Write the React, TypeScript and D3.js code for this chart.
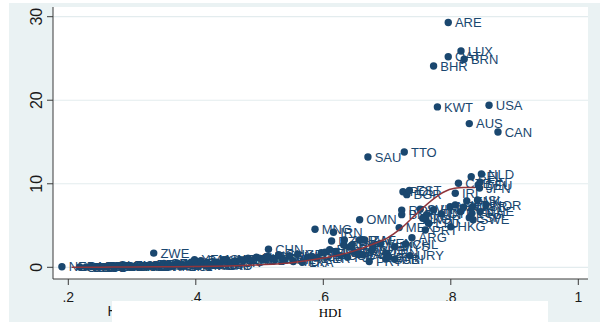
import React from "react";
import * as d3 from "d3";

// Country codes, Human Development Index and CO2 emissions per capita (tonnes)
const countries = [
  "NER","COD","BDI","MOZ","TCD","ETH","MLI","BFA","SLE","CAF","GIN","LBR","GNB","ERI","MWI","AFG","RWA","TZA","UGA","BEN",
  "ZMB","ZWE","GMB","CIV","SEN","TGO","MDG","SDN","MRT","NPL","HTI","KEN","NGA","YEM","CMR","PAK","BGD","COG","KHM","GHA",
  "AGO","LAO","SWZ","IND","TJK","NIC","GTM","HND","MAR","BOL","NAM","KGZ","VNM","IDN","CHN","SLV","GUY","PHL","BWA","MDA",
  "GEO","LKA","ARM","ALB","PER","TUN","ECU","EGY","MNG","DZA","IRN","DOM","COL","THA","JOR","FJI","TUR","SYR","BRA","PAN",
  "OMN","JAM","BLZ","ZAF","SAU","PRY","CUB","MKD","VEN","LBN","MYS","GAB","BIH","CRI","MEX","URY","CHL","ARG","TTO","ROU",
  "BLR","POL","BGR","EST","LTU","PRT","KOR","SVK","HUN","HRV","LVA","CYP","HKG","BHR","KWT","ARE","QAT","NZL","AUT","IRL",
  "CZE","SVN","LUX","ITA","BRN","DNK","AUS","ESP","BEL","FRA","GBR","SWE","ISL","DEU","JPN","FIN","CHE","NLD","NOR","USA",
  "CAN",
];

const hdi = [
  0.190,0.218,0.228,0.236,0.242,0.249,0.255,0.262,0.268,0.273,0.279,0.284,0.290,0.296,0.301,0.307,0.312,0.318,0.323,0.328,
  0.333,0.334,0.339,0.345,0.350,0.356,0.361,0.366,0.371,0.376,0.381,0.386,0.393,0.398,0.403,0.408,0.413,0.418,0.423,0.428,
  0.433,0.438,0.443,0.448,0.455,0.462,0.470,0.476,0.482,0.488,0.495,0.500,0.507,0.513,0.514,0.522,0.530,0.538,0.547,0.553,
  0.560,0.567,0.575,0.582,0.590,0.597,0.603,0.610,0.587,0.613,0.616,0.620,0.627,0.632,0.633,0.638,0.642,0.645,0.650,0.655,
  0.657,0.657,0.662,0.665,0.670,0.672,0.676,0.678,0.689,0.699,0.712,0.698,0.703,0.712,0.719,0.736,0.729,0.739,0.727,0.723,
  0.723,0.725,0.731,0.735,0.765,0.760,0.761,0.752,0.762,0.773,0.756,0.785,0.800,0.773,0.779,0.796,0.796,0.799,0.807,0.807,
  0.812,0.815,0.816,0.820,0.821,0.825,0.829,0.829,0.832,0.833,0.834,0.835,0.842,0.843,0.845,0.846,0.846,0.848,0.855,0.860,
  0.874,
];

const co2 = [
  0.07,0.04,0.03,0.10,0.01,0.08,0.05,0.10,0.20,0.06,0.15,0.15,0.20,0.12,0.08,0.05,0.07,0.15,0.10,0.30,
  0.20,1.70,0.25,0.30,0.45,0.25,0.10,0.30,0.50,0.12,0.20,0.30,0.60,0.90,0.25,0.80,0.30,0.40,0.25,0.35,
  0.60,0.20,0.90,0.95,0.60,0.75,0.90,0.90,1.10,0.80,1.20,1.10,0.90,1.30,2.16,1.00,1.50,0.90,1.35,0.70,
  1.56,0.60,1.20,1.30,1.10,1.75,1.80,2.10,4.55,3.15,4.20,1.90,1.40,2.67,3.27,1.20,2.47,2.67,1.80,1.60,
  5.70,3.27,1.50,3.27,13.2,0.70,2.00,2.47,2.87,1.68,2.47,1.00,1.20,0.96,4.75,1.40,2.80,3.55,13.8,6.85,
  6.30,9.05,8.70,9.20,5.27,4.47,5.70,6.95,6.30,6.90,5.87,6.40,4.86,24.1,19.2,29.3,25.2,7.26,7.46,8.86,
  10.06,6.66,25.9,7.20,24.9,7.94,17.2,5.94,10.85,6.47,7.26,5.70,8.06,9.85,9.50,10.20,6.66,11.17,7.46,19.4,
  16.2,
];

// Fitted relationship between HDI and emissions
const fitHdi = [0.205,0.25,0.30,0.35,0.40,0.45,0.50,0.55,0.60,0.626,0.65,0.675,0.70,0.721,0.746,0.773,0.79,0.806,0.82,0.838];
const fitCo2 = [0.0,0.02,0.04,0.07,0.1,0.16,0.3,0.55,1.1,1.5,2.0,2.7,3.5,4.6,6.4,8.2,9.05,9.45,9.55,9.55];

const xTicks = [0.2, 0.4, 0.6, 0.8, 1];
const xTickLabels = [".2", ".4", ".6", ".8", "1"];
const yTicks = [0, 10, 20, 30];

const NAVY = "#1a476f";
const MAROON = "#90353b";
const BG = "#eaf2f3";
const SANS = "'Liberation Sans', Arial, Helvetica, sans-serif";
const SERIF = "'Liberation Serif', 'Times New Roman', serif";

export default function App() {
  const width = 600;
  const height = 324;

  const plot = { left: 53, right: 588, top: 7, bottom: 279 };

  const x = d3.scaleLinear().domain([0.2, 1]).range([68.3, 578.3]);
  const y = d3.scaleLinear().domain([0, 30]).range([267.3, 16.7]);

  const fitPoints: [number, number][] = fitHdi.map((h, i) => [h, fitCo2[i]]);
  const fitPath = d3
    .line<[number, number]>()
    .x((d) => x(d[0]))
    .y((d) => y(d[1]))
    .curve(d3.curveMonotoneX)(fitPoints);

  return (
    <svg
      width={width}
      height={height}
      style={{ position: "absolute", left: 0, top: 0 }}
      fontFamily={SANS}
    >
      <rect x={0} y={0} width={width} height={height} fill="#ffffff" />
      <rect x={9} y={3} width={591} height={319} fill={BG} />
      <rect
        x={plot.left}
        y={plot.top}
        width={plot.right - plot.left}
        height={plot.bottom - plot.top}
        fill="#ffffff"
      />

      {/* horizontal grid */}
      {yTicks.map((t) => (
        <line
          key={"g" + t}
          x1={plot.left}
          x2={plot.right}
          y1={y(t)}
          y2={y(t)}
          stroke="#e3ecee"
          strokeWidth={1.2}
        />
      ))}

      {/* axes */}
      <line x1={plot.left} x2={plot.left} y1={plot.top} y2={plot.bottom} stroke="#3a3a3a" strokeWidth={1} />
      <line x1={plot.left} x2={plot.right} y1={plot.bottom} y2={plot.bottom} stroke="#3a3a3a" strokeWidth={1} />

      {yTicks.map((t) => (
        <g key={"yt" + t}>
          <line x1={plot.left - 6} x2={plot.left} y1={y(t)} y2={y(t)} stroke="#3a3a3a" strokeWidth={1} />
          <text
            transform={`translate(41.8, ${y(t)}) rotate(-90)`}
            textAnchor="middle"
            fontSize={16}
            fill="#1a1a1a"
          >
            {t}
          </text>
        </g>
      ))}

      {xTicks.map((t, i) => (
        <g key={"xt" + t}>
          <line x1={x(t)} x2={x(t)} y1={plot.bottom} y2={plot.bottom + 6} stroke="#3a3a3a" strokeWidth={1} />
          <text x={x(t)} y={302} textAnchor="middle" fontSize={14} fill="#1a1a1a">
            {xTickLabels[i]}
          </text>
        </g>
      ))}

      {/* markers with country labels */}
      {countries.map((c, i) => {
        const cx = x(hdi[i]);
        const cy = y(co2[i]);
        return (
          <g key={c + i}>
            <circle cx={cx} cy={cy} r={3.7} fill={NAVY} />
            <text x={cx + 6.7} y={cy + 4.6} fontSize={13} fill={NAVY}>
              {c}
            </text>
          </g>
        );
      })}

      {/* fitted curve */}
      <path d={fitPath ?? ""} fill="none" stroke={MAROON} strokeWidth={1.5} />

      {/* axis title and caption box */}
      <text x={107.5} y={315.7} fontSize={14} fill="#1a1a1a">
        HDI
      </text>
      <rect x={112} y={301} width={436} height={23} fill="#ffffff" />
      <text x={330.3} y={316.7} textAnchor="middle" fontSize={13} fontFamily={SERIF} fill="#000000">
        HDI
      </text>
    </svg>
  );
}
